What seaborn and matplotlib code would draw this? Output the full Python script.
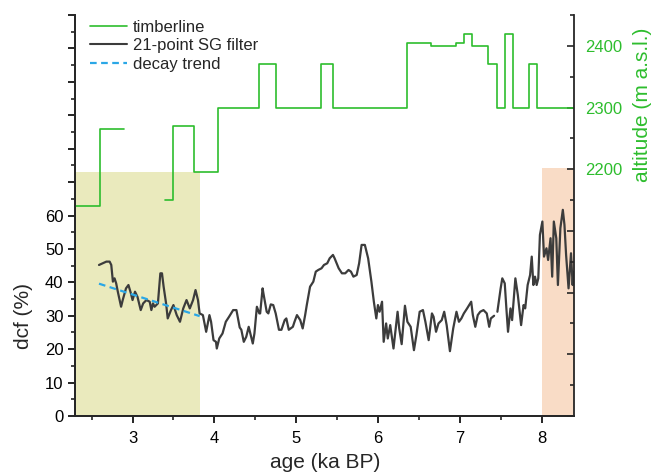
import numpy as np
import pandas as pd
import matplotlib
matplotlib.use("Agg")
import matplotlib.pyplot as plt
import seaborn as sns
from matplotlib.ticker import MultipleLocator, FuncFormatter

# dcf record (21-point SG filter), two segments
age_a = [2.59, 2.68, 2.72, 2.74, 2.76, 2.78, 2.80, 2.82, 2.86, 2.88, 2.92, 2.95, 2.98, 3.00,
         3.03, 3.06, 3.10, 3.13, 3.17, 3.21, 3.23, 3.25, 3.27, 3.31, 3.34, 3.36, 3.38, 3.41,
         3.43, 3.47, 3.50, 3.54, 3.58, 3.62, 3.66, 3.70, 3.74, 3.77, 3.80, 3.82, 3.86, 3.90,
         3.94, 3.96, 3.99, 4.02, 4.03, 4.06, 4.10, 4.14, 4.18, 4.23, 4.27, 4.31, 4.33, 4.36,
         4.39, 4.42, 4.44, 4.47, 4.49, 4.52, 4.55, 4.56, 4.59, 4.60, 4.64, 4.66, 4.69, 4.72,
         4.75, 4.79, 4.82, 4.86, 4.88, 4.91, 4.96, 4.98, 5.01, 5.05, 5.08, 5.11, 5.13, 5.17,
         5.21, 5.24, 5.27, 5.31, 5.34, 5.38, 5.41, 5.45, 5.47, 5.52, 5.56, 5.60, 5.64, 5.67,
         5.70, 5.74, 5.77, 5.80, 5.84, 5.88, 5.92, 5.95, 5.98, 6.00, 6.02, 6.05, 6.07, 6.10,
         6.12, 6.15, 6.19, 6.24, 6.26, 6.29, 6.33, 6.36, 6.40, 6.44, 6.47, 6.51, 6.55, 6.58,
         6.62, 6.66, 6.68, 6.71, 6.74, 6.78, 6.81, 6.84, 6.88, 6.92, 6.96, 6.99, 7.02, 7.05,
         7.09, 7.14, 7.16, 7.19, 7.22, 7.25, 7.29, 7.33, 7.36, 7.38, 7.42]
dcf_a = [45.2, 46.2, 46.2, 45.2, 40.2, 41.2, 39.7, 37.2, 32.7, 34.7, 38.2, 39.2, 36.7, 34.7,
         37.2, 35.7, 31.7, 33.7, 34.7, 34.2, 31.7, 33.7, 32.7, 33.7, 42.7, 42.7, 38.7, 33.7,
         29.2, 31.7, 33.2, 30.2, 28.2, 32.2, 34.7, 32.2, 34.7, 37.7, 34.7, 30.7, 30.2, 25.2,
         30.2, 28.2, 22.7, 22.2, 20.2, 23.2, 24.7, 28.2, 29.7, 31.7, 31.7, 26.5, 25.8, 22.2,
         23.7, 26.7, 24.7, 21.7, 24.7, 32.7, 30.7, 30.7, 38.2, 36.7, 31.2, 30.7, 33.4, 33.2,
         30.7, 25.8, 25.8, 28.7, 29.2, 25.8, 26.7, 28.2, 30.2, 28.7, 26.2, 30.2, 33.2, 38.7,
         40.2, 43.2, 43.7, 44.2, 45.2, 45.7, 47.2, 48.2, 47.2, 44.2, 42.7, 42.7, 43.7, 43.2,
         41.7, 42.2, 45.7, 51.2, 51.2, 47.2, 40.2, 34.2, 29.2, 33.2, 31.2, 34.2, 22.2, 27.7,
         23.2, 27.2, 20.2, 31.2, 26.2, 21.5, 33.0, 28.2, 26.7, 19.7, 24.2, 31.2, 31.7, 28.2,
         22.7, 30.7, 29.7, 25.2, 27.7, 28.7, 31.2, 27.2, 19.4, 26.2, 31.2, 28.2, 29.2, 30.7,
         32.2, 34.2, 30.2, 26.7, 30.2, 31.2, 31.7, 30.7, 26.7, 29.2, 30.0]
age_b = [7.46, 7.50, 7.52, 7.55, 7.57, 7.59, 7.62, 7.64, 7.68, 7.71, 7.75, 7.78, 7.80, 7.83,
         7.86, 7.88, 7.90, 7.92, 7.94, 7.96, 7.98, 8.01, 8.03, 8.06, 8.08, 8.11, 8.13, 8.15,
         8.18, 8.20, 8.23, 8.26, 8.28, 8.30, 8.33, 8.36, 8.38, 8.39]
dcf_b = [31.2, 38.2, 41.2, 39.7, 32.2, 25.2, 32.2, 28.7, 41.2, 36.2, 27.2, 33.2, 32.2, 39.2,
         42.2, 47.7, 39.2, 41.7, 39.2, 41.2, 54.2, 58.2, 47.7, 50.2, 46.7, 53.2, 41.7, 58.2,
         53.2, 39.2, 56.2, 61.7, 57.2, 48.2, 38.2, 48.7, 39.2, 43.2]

# decay trend
trend_age = [2.59, 3.82]
trend_dcf = [39.6, 29.9]

# timberline altitude (step edges and levels)
tl_edges_a = [2.3, 2.6, 2.9]
tl_alt_a = [2140, 2265]
tl_edges_b = [3.4, 3.5, 3.75, 4.05, 4.55, 4.75, 5.30, 5.45, 6.35, 6.65, 6.95, 7.05, 7.15,
              7.35, 7.45, 7.55, 7.65, 7.85, 7.95, 8.4]
tl_alt_b = [2150, 2270, 2195, 2300, 2370, 2300, 2370, 2300, 2405, 2400, 2405, 2420, 2400,
            2370, 2300, 2420, 2300, 2370, 2300]

# shaded periods
olive_span = (2.3, 3.82, 73)
orange_span = (8.0, 8.4, 74.3)

sns.set_style("ticks")
plt.rcParams["font.family"] = ["Liberation Sans", "DejaVu Sans"]

dcf_df = pd.DataFrame({
    "age": age_a + age_b,
    "dcf": dcf_a + dcf_b,
    "seg": [0] * len(age_a) + [1] * len(age_b),
})
trend_df = pd.DataFrame({"age": trend_age, "dcf": trend_dcf})
tl_df = pd.DataFrame({
    "age": tl_edges_a + tl_edges_b,
    "alt": tl_alt_a + [tl_alt_a[-1]] + tl_alt_b + [tl_alt_b[-1]],
    "seg": [0] * len(tl_edges_a) + [1] * len(tl_edges_b),
})

fig = plt.figure(figsize=(6.54, 4.75), dpi=100)
ax = fig.add_axes([0.1151, 0.1242, 0.763, 0.8442])
ax2 = ax.twinx()

green = "#2dbd2d"
ax.axvspan(olive_span[0], olive_span[1], ymin=0, ymax=olive_span[2] / 120,
           color="#eaeabd", lw=0, zorder=0)
ax.axvspan(orange_span[0], orange_span[1], ymin=0, ymax=orange_span[2] / 120,
           color="#f9dcc6", lw=0, zorder=0)

sns.lineplot(data=dcf_df, x="age", y="dcf", units="seg", estimator=None, sort=False,
             color="#3c3c3c", lw=1.6, ax=ax)
sns.lineplot(data=trend_df, x="age", y="dcf", color="#2aa7e6", lw=1.6,
             dashes=False, linestyle=(0, (3, 2)), ax=ax)
sns.lineplot(data=tl_df, x="age", y="alt", units="seg", estimator=None, sort=False,
             color=green, lw=1.2, drawstyle="steps-post", ax=ax2)

ax.set_xlim(2.3, 8.4)
ax.set_ylim(0, 120)
ax2.set_ylim(1800, 2450)

ax.xaxis.set_major_locator(MultipleLocator(1))
ax.xaxis.set_minor_locator(MultipleLocator(0.5))
ax.yaxis.set_major_locator(MultipleLocator(10))
ax.yaxis.set_minor_locator(MultipleLocator(5))
ax.yaxis.set_major_formatter(FuncFormatter(lambda v, p: f"{v:.0f}" if v <= 60 else ""))
ax2.yaxis.set_major_locator(MultipleLocator(100))
ax2.yaxis.set_minor_locator(MultipleLocator(50))
ax2.yaxis.set_major_formatter(FuncFormatter(lambda v, p: f"{v:.0f}" if v >= 2200 else ""))

for a in (ax, ax2):
    a.spines["top"].set_visible(False)
    for s in a.spines.values():
        s.set_linewidth(1.3)
ax.spines["right"].set_visible(False)

ax.tick_params(axis="both", which="major", direction="out", length=5, width=1.2,
               labelsize=12, colors="black")
ax.tick_params(axis="x", which="major", pad=6)
ax.tick_params(axis="both", which="minor", direction="out", length=3, width=1.2)
ax2.tick_params(axis="y", which="major", direction="in", length=5, width=1.2,
                labelsize=12, labelcolor=green, pad=8)
ax2.tick_params(axis="y", which="minor", direction="in", length=3, width=1.2)

ax.set_xlabel("age (ka BP)", fontsize=15, labelpad=5)
ax.set_ylabel("dcf (%)", fontsize=15)
ax.yaxis.set_label_coords(-0.085, 0.25)
ax2.set_ylabel("altitude (m a.s.l.)", fontsize=15, color=green)
ax2.yaxis.set_label_coords(1.117, 0.775)

handles = [
    plt.Line2D([], [], color=green, lw=1.2),
    plt.Line2D([], [], color="#3c3c3c", lw=1.5),
    plt.Line2D([], [], color="#2aa7e6", lw=1.6, linestyle=(0, (3, 2))),
]
ax.legend(handles, ["timberline", "21-point SG filter", "decay trend"],
          loc="upper left", bbox_to_anchor=(0.0, 1.025), frameon=False, fontsize=12,
          handlelength=2.2, labelspacing=0.2, handletextpad=0.35)

fig.savefig("out.png", dpi=100)
